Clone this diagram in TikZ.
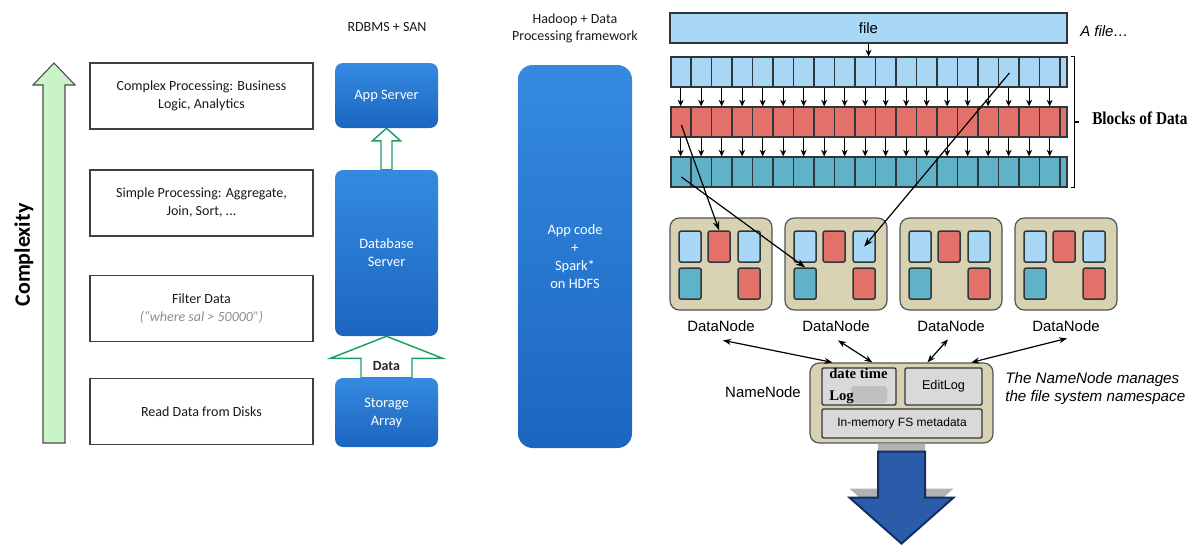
\documentclass[tikz,border=0pt]{standalone}
\usepackage{fontspec}
\setmainfont{Carlito}
\newfontfamily\arialfont{Liberation Sans}
\newfontfamily\tnrfont{Liberation Serif}
\usetikzlibrary{arrows.meta,calc,backgrounds}

\definecolor{cgreen}{HTML}{C8F4C8}
\definecolor{hgreen}{HTML}{1E9E62}
\definecolor{bluetop}{HTML}{358AE0}
\definecolor{bluebot}{HTML}{1C66C0}
\definecolor{lblue}{HTML}{A8D8F5}
\definecolor{cred}{HTML}{E2716A}
\definecolor{cteal}{HTML}{5FB2C8}
\definecolor{tan}{HTML}{D8D1B2}
\definecolor{outl}{HTML}{2E383B}
\definecolor{ngray}{HTML}{D9D9D9}
\definecolor{bluearr}{HTML}{2B5CAA}
\definecolor{navy}{HTML}{142D64}

\tikzset{
  lvl/.style={draw=black!75, line width=0.8pt, minimum width=167.25pt, minimum height=49.5pt,
    align=center, text=black!90, font=\fontsize{10.5}{13.5}\selectfont},
  bluebox/.style={rounded corners=6pt, top color=bluetop, bottom color=bluebot, text=white,
    align=center, minimum width=77.25pt, font=\fontsize{10.8}{13.5}\selectfont},
  hollow/.style={draw=hgreen, line width=1.1pt, fill=white, line join=miter},
  hdr/.style={text=black!90, align=center, font=\fontsize{10.5}{12.75}\selectfont},
  bar/.style={draw=outl, line width=0.9pt, inner sep=0},
  cellarrow/.style={-{Stealth[length=5pt,width=4.5pt]}, line width=0.8pt},
  rep/.style={-{Stealth[length=7pt,width=5pt]}, line width=0.9pt},
  dn/.style={rounded corners=7pt, fill=tan, draw=outl!85, line width=0.9pt,
    minimum width=76.5pt, minimum height=69pt, inner sep=0},
  blk/.style={rounded corners=1.5pt, draw=outl, line width=1.1pt, minimum width=16.5pt,
    minimum height=23.25pt, inner sep=0, anchor=north west},
  lbl/.style={inner sep=0, font=\arialfont\fontsize{11.2}{13}\selectfont},
  link/.style={{Stealth[length=6pt,width=4.5pt]}-{Stealth[length=6pt,width=4.5pt]}, line width=0.9pt},
  inbox/.style={fill=ngray, draw=outl, line width=1.1pt, rounded corners=1pt, inner sep=0,
    font=\arialfont\fontsize{9}{11}\selectfont}
}

\begin{document}
\begin{tikzpicture}[x=0.75pt,y=-0.75pt]
\useasboundingbox (0,0) rectangle (1195,544);

% ---------- complexity scale ----------
\draw[fill=cgreen, draw=black!70, line width=0.8pt, line join=miter]
  (43,443) -- (43,85) -- (33,85) -- (54,63) -- (75,85) -- (65,85) -- (65,443) -- cycle;
\node[rotate=90, font=\bfseries\fontsize{16.5}{18}\selectfont] (cx) at (24,255) {Complexity};

% ---------- processing levels ----------
\node[lvl] (l1) at (201.5,96) {Complex Processing: Business\\Logic, Analytics};
\node[lvl] (l2) at (201.5,203) {Simple Processing: Aggregate,\\Join, Sort, ...};
\node[lvl] (l3) at (201.5,308.5) {Filter Data\\{\itshape\color{black!45}(“where sal > 50000”)}};
\node[lvl] (l4) at (201.5,411.5) {Read Data from Disks};

% ---------- RDBMS + SAN stack ----------
\node[hdr] (t1) at (387,27) {RDBMS + SAN};
\node[bluebox, minimum height=48.75pt] (app) at (386.5,95.5) {App Server};
\node[bluebox, minimum height=124.5pt] (db) at (386.5,253) {Database\\Server};
\node[bluebox, minimum height=51.75pt] (sto) at (386.5,412.5) {Storage\\Array};

\begin{scope}[on background layer]
  \draw[hollow] (app.south) -- ++(14,12.5) -- ++(-8.5,0) -- ($(db.north)+(5.5,0)$)
    -- ($(db.north)+(-5.5,0)$) -- ($(app.south)+(-5.5,12.5)$) -- ($(app.south)+(-14,12.5)$) -- cycle;
  \draw[hollow] (db.south) -- ++(56,22) -- ++(-30.5,0) -- ($(sto.north)+(25.5,0)$)
    -- ($(sto.north)+(-25.5,0)$) -- ($(db.south)+(-25.5,22)$) -- ($(db.south)+(-56,22)$) -- cycle;
\end{scope}
\node[text=black!85, font=\bfseries\fontsize{10.5}{12}\selectfont] (dlab) at (386.5,366) {Data};

% ---------- Hadoop column ----------
\node[hdr] (t2) at (575,28.5) {Hadoop + Data\\Processing framework};
\node[bluebox, rounded corners=11pt, minimum width=85.5pt, minimum height=287.25pt] (hd) at (575,256.5)
  {App code\\+\\Spark*\\on HDFS};

% ---------- file and blocks ----------
\node[bar, fill=lblue, minimum width=297.75pt, minimum height=22.5pt,
  font=\arialfont\fontsize{11.2}{13}\selectfont] (file) at (868.5,28) {file};
\node[anchor=west, inner sep=0, font=\arialfont\itshape\fontsize{11.2}{13}\selectfont] (afile) at (1080,31) {A file…};

\node[bar, fill=lblue, minimum width=297pt, minimum height=22.5pt] (row1) at (869,72) {};
\node[bar, fill=cred,  minimum width=297pt, minimum height=22.5pt] (row2) at (869,122) {};
\node[bar, fill=cteal, minimum width=297pt, minimum height=22.5pt] (row3) at (869,172) {};
\foreach \r in {row1,row2,row3}
  \foreach \k in {1,...,19}
    \draw[outl, line width=1.1pt] ($(\r.north west)+(20.5*\k,0)$) -- ($(\r.south west)+(20.5*\k,0)$);

\draw[cellarrow] (file.south) -- (file.south |- row1.north);
\foreach \k in {0,...,18} {
  \draw[cellarrow] ($(row1.south west)+(20.5*\k+10.25,0)$) -- ($(row2.north west)+(20.5*\k+10.25,0)$);
  \draw[cellarrow] ($(row2.south west)+(20.5*\k+10.25,0)$) -- ($(row3.north west)+(20.5*\k+10.25,0)$);
}

% bracket for the block rows
\draw[line width=0.9pt] ($(row1.north east)+(3,0)$) -- ++(4,0) -- ($(row3.south east)+(7,0)$) -- ++(-4,0);
\draw[line width=0.9pt] ($(row2.east)+(7,0)$) -- ++(4,0);
\node[anchor=west, inner sep=0, font=\tnrfont\bfseries\fontsize{13.5}{15}\selectfont] (bod) at (1092,118)
  {\scalebox{0.85}[1]{Blocks of Data}};

% ---------- data nodes ----------
\foreach \i/\cx in {1/721,2/836,3/951,4/1066} {
  \node[dn] (dn\i) at (\cx,264) {};
  \node[blk, fill=lblue] (dn\i-a) at ($(dn\i.north west)+(9,13)$) {};
  \node[blk, fill=cred]  (dn\i-b) at ($(dn\i.north west)+(38,13)$) {};
  \node[blk, fill=lblue] (dn\i-c) at ($(dn\i.north west)+(68,13)$) {};
  \node[blk, fill=cteal] (dn\i-d) at ($(dn\i.north west)+(9,50)$) {};
  \node[blk, fill=cred]  (dn\i-e) at ($(dn\i.north west)+(68,50)$) {};
  \node[lbl] (dl\i) at ($(dn\i.south)+(0,16)$) {DataNode};
}

% block replicas placed on data nodes
\coordinate (r2a) at ($(row2.west)+(11,3)$);
\coordinate (r3a) at ($(row3.west)+(11,5)$);
\coordinate (r1s) at ($(row1.west)+(339,1)$);
\draw[rep] (r2a) -- (dn1-b.north);
\draw[rep] (r3a) -- (dn2-d.north);
\draw[rep] (r1s) -- (dn2-c.center);

% ---------- name node ----------
\node[dn, minimum width=137.25pt, minimum height=60pt] (nn) at (901.5,403) {};
\node[inbox, minimum width=55.5pt, minimum height=27.75pt] (fsi) at (859,386.5) {};
\fill[gray!50, rounded corners=2pt] (851,386) rectangle (887,403);
\node[anchor=base west, inner sep=0, font=\tnrfont\bfseries\fontsize{11}{13}\selectfont] (fsi1) at (829,378) {date time};
\node[anchor=base west, inner sep=0, font=\tnrfont\bfseries\fontsize{11}{13}\selectfont] (fsi2) at (829,400) {Log};
\node[inbox, minimum width=57.75pt, minimum height=27.75pt, font=\arialfont\fontsize{9.5}{11}\selectfont] (edit) at (943.5,386.5) {EditLog};
\node[inbox, minimum width=120pt, minimum height=21.75pt] (mem) at (902,423.5) {In-memory FS metadata};

\node[lbl] (nnl) at (763,392) {NameNode};
\node[anchor=west, align=left, inner sep=0, font=\arialfont\itshape\fontsize{11.4}{13.5}\selectfont] (nnd) at (1005,389)
  {The NameNode manages\\the file system namespace};

\draw[link] ($(dl1.south)+(2,8)$) -- ($(nn.north west)+(23,0)$);
\draw[link] ($(dl2.south)+(2,8)$) -- ($(nn.north west)+(63,0)$);
\draw[link] ($(dl3.south)+(-3,7)$) -- ($(nn.north west)+(118,0)$);
\draw[link] ($(dl4.south)+(1,6)$) -- ($(nn.north west)+(162,0)$);

% ---------- output arrow ----------
\fill[gray!60] (nn.south) ++(-23.5,0) -- ++(0,45) -- ++(-28.5,0) -- ++(52,46) -- ++(52,-46)
  -- ++(-28.5,0) -- ++(0,-45) -- cycle;
\draw[fill=bluearr, draw=navy, line width=1.5pt, line join=miter] (nn.south) ++(-23.5,8) -- ++(0,46)
  -- ++(-28.5,0) -- ++(52,46) -- ++(52,-46) -- ++(-28.5,0) -- ++(0,-46) -- cycle;
\end{tikzpicture}
\end{document}
